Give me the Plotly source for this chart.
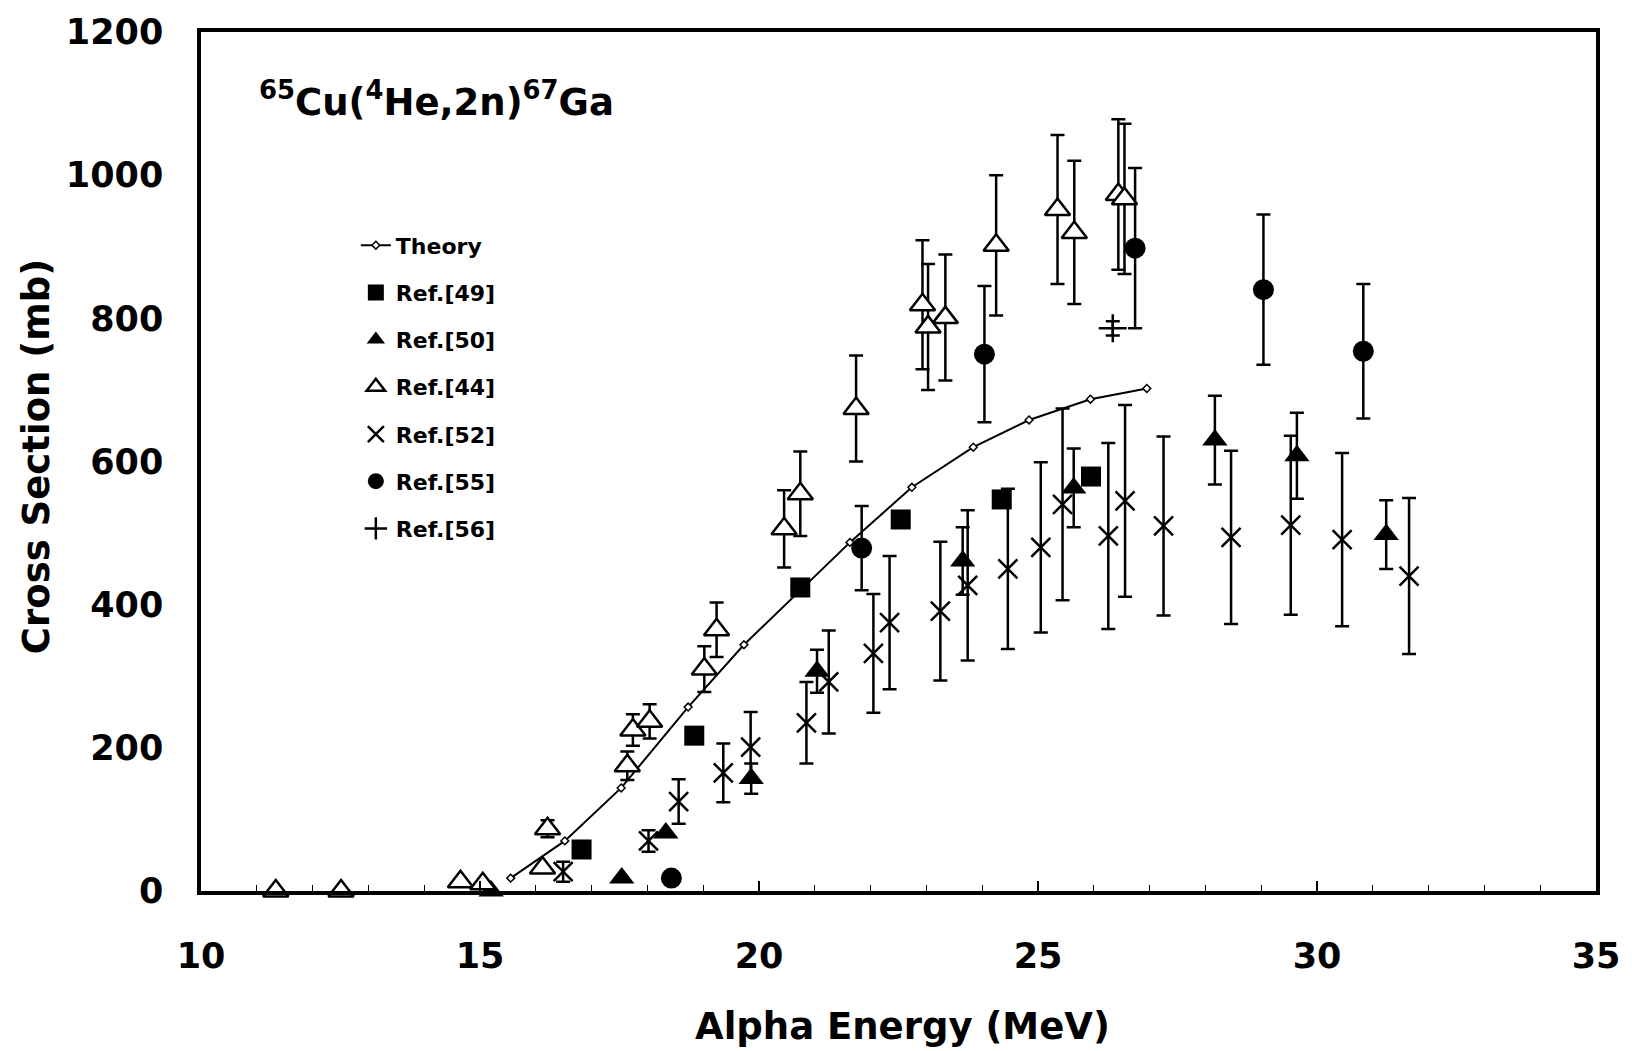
import plotly.graph_objects as go

# Alpha energy (MeV) and cross section (mb) for 65Cu(4He,2n)67Ga
theory_e = [15.55, 16.52, 17.53, 18.73, 19.73, 21.63, 22.74, 23.84, 24.84, 25.94, 26.95]
theory_xs = [18, 70, 144, 257, 344, 487, 564, 620, 658, 687, 702]

ref49_e = [16.82, 18.84, 20.74, 22.54, 24.35, 25.95]
ref49_xs = [58, 217, 424, 519, 547, 579]

ref50_e = [15.20, 17.54, 18.33, 19.86, 21.04, 23.65, 25.64, 28.17, 29.64, 31.24]
ref50_xs = [0, 18, 81, 157, 307, 461, 563, 630, 608, 498]
ref50_err = [None, None, None, 21, 30, 47, 55, 62, 60, 48]

ref44_e = [11.34, 12.51, 14.65, 15.05, 16.12, 16.21, 17.64, 17.74, 18.04, 19.02, 19.24,
           20.45, 20.74, 21.74, 22.93, 23.03, 23.34, 24.25, 25.35, 25.65, 26.44, 26.55]
ref44_xs = [0, 0, 13, 10, 32, 87, 175, 225, 237, 310, 365,
            506, 555, 674, 819, 788, 801, 902, 952, 920, 973, 967]
ref44_err = [None, None, None, None, None, 12, 20, 22, 24, 32, 38,
             54, 59, 74, 90, 88, 88, 98, 104, 100, 105, 105]

ref52_e = [16.49, 18.02, 18.56, 19.36, 19.85, 20.85, 21.25, 22.05, 22.34, 23.25, 23.74,
           24.46, 25.05, 25.44, 26.26, 26.56, 27.25, 28.46, 29.53, 30.45, 31.65]
ref52_xs = [27, 70, 125, 165, 201, 235, 292, 332, 375, 391, 427,
            450, 480, 540, 496, 545, 510, 494, 511, 491, 440]
ref52_err = [14, 15, 31, 41, 49, 57, 72, 83, 93, 97, 105,
             112, 119, 134, 130, 134, 125, 121, 125, 121, 109]

ref55_e = [18.43, 21.84, 24.04, 26.74, 29.04, 30.83]
ref55_xs = [18, 479, 750, 898, 840, 754]
ref55_err = [None, 59, 95, 112, 105, 94]

ref56_e = [26.34]
ref56_xs = [786]
ref56_err = [10]

x_ticks = [10, 15, 20, 25, 30, 35]
y_ticks = [0, 200, 400, 600, 800, 1000, 1200]

FONT = "DejaVu Sans"
fig = go.Figure()

fig.add_trace(go.Scatter(
    x=theory_e, y=theory_xs, mode="lines+markers", name="Theory",
    legendgroup="Theory", legendrank=1,
    line=dict(color="black", width=2),
    marker=dict(symbol="diamond", size=6, color="white",
                line=dict(color="black", width=1.5)),
    cliponaxis=False,
))


def add_series(name, rank, e, xs, err, marker):
    """Add a data set; points without an uncertainty go into a companion trace."""
    if err is None:
        err = [None] * len(e)
    with_err = [i for i, v in enumerate(err) if v is not None]
    no_err = [i for i, v in enumerate(err) if v is None]
    shown = False
    if with_err:
        fig.add_trace(go.Scatter(
            x=[e[i] for i in with_err], y=[xs[i] for i in with_err],
            error_y=dict(type="data", array=[err[i] for i in with_err],
                         color="black", thickness=2.5, width=7),
            mode="markers", name=name, legendgroup=name, legendrank=rank,
            showlegend=True, marker=marker, cliponaxis=False,
        ))
        shown = True
    if no_err:
        fig.add_trace(go.Scatter(
            x=[e[i] for i in no_err], y=[xs[i] for i in no_err],
            mode="markers", name=name, legendgroup=name, legendrank=rank,
            showlegend=not shown, marker=marker, cliponaxis=False,
        ))


add_series("Ref.[49]", 2, ref49_e, ref49_xs, None,
           dict(symbol="square", size=20, color="black"))
add_series("Ref.[50]", 3, ref50_e, ref50_xs, ref50_err,
           dict(symbol="triangle-up", size=22, color="black"))
add_series("Ref.[44]", 4, ref44_e, ref44_xs, ref44_err,
           dict(symbol="triangle-up", size=22, color="white",
                line=dict(color="black", width=2.5)))
add_series("Ref.[52]", 5, ref52_e, ref52_xs, ref52_err,
           dict(symbol="x-thin", size=19, color="black",
                line=dict(color="black", width=2.5)))
add_series("Ref.[55]", 6, ref55_e, ref55_xs, ref55_err,
           dict(symbol="circle", size=21, color="black"))
add_series("Ref.[56]", 7, ref56_e, ref56_xs, ref56_err,
           dict(symbol="cross-thin", size=20, color="black",
                line=dict(color="black", width=2.5)))

tick_font = dict(family=FONT, size=35, color="black", weight="bold")

fig.update_xaxes(
    range=[10, 35], tickvals=x_ticks, ticktext=[str(v) for v in x_ticks],
    showline=True, linecolor="black", linewidth=3.5, mirror=True,
    ticks="inside", ticklen=10, tickwidth=1.5, tickcolor="black",
    minor=dict(dtick=1, ticks="inside", ticklen=6, tickwidth=1.2, tickcolor="black"),
    showgrid=False, zeroline=False, tickfont=tick_font, ticklabelstandoff=31,
)
fig.update_yaxes(
    range=[0, 1200], tickvals=y_ticks, ticktext=[str(v) for v in y_ticks],
    showline=True, linecolor="black", linewidth=3.5, mirror=True,
    ticks="", showgrid=False, zeroline=False, tickfont=tick_font,
    ticklabelstandoff=27,
)

fig.add_annotation(
    text="<sup>65</sup>Cu(<sup>4</sup>He,2n)<sup>67</sup>Ga",
    xref="paper", yref="paper", x=0.040, y=0.921, xanchor="left", yanchor="middle",
    showarrow=False, font=dict(family=FONT, size=37, color="black", weight="bold"),
)
fig.add_annotation(
    text="Alpha Energy (MeV)", xref="paper", yref="paper", x=0.503, y=-0.158,
    xanchor="center", yanchor="middle", showarrow=False,
    font=dict(family=FONT, size=37, color="black", weight="bold"),
)
fig.add_annotation(
    text="Cross Section (mb)", xref="paper", yref="paper", x=-0.1177, y=0.506,
    xanchor="center", yanchor="middle", textangle=-90, showarrow=False,
    font=dict(family=FONT, size=37, color="black", weight="bold"),
)

fig.update_layout(
    width=1632, height=1051,
    margin=dict(l=201, r=29, t=30, b=160),
    paper_bgcolor="white", plot_bgcolor="white",
    showlegend=True,
    legend=dict(
        x=0.111, y=0.776, xanchor="left", yanchor="top",
        traceorder="grouped", tracegroupgap=15.6,
        bgcolor="rgba(0,0,0,0)", borderwidth=0,
        font=dict(family=FONT, size=22, color="black", weight="bold"),
    ),
)

fig.write_html("out.html")
